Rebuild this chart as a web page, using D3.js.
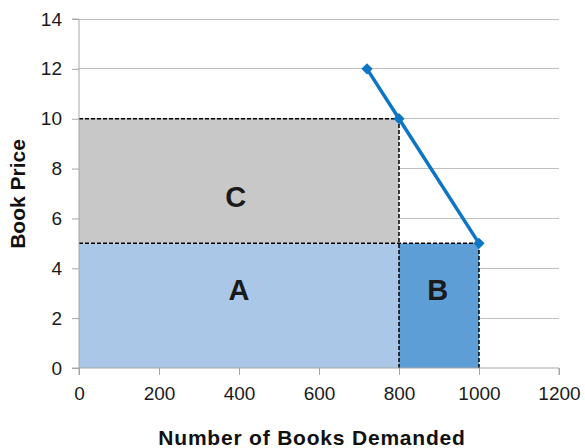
<!DOCTYPE html>
<html><head><meta charset="utf-8">
<script src="https://cdn.jsdelivr.net/npm/d3@7"></script>
<style>body{margin:0;background:#fff}svg{display:block;font-family:"Liberation Sans",Arial,sans-serif}</style>
</head><body><svg id="c" width="585" height="448"></svg>
<script>
const demandQty = [720, 800, 1000];
const demandPrice = [12, 10, 5];
const areaNames = ["A", "B", "C"];
const areaX0 = [0, 800, 0];
const areaX1 = [800, 1000, 800];
const areaY0 = [0, 0, 5];
const areaY1 = [5, 5, 10];
const areaColors = ["#abc7e7", "#5e9ed6", "#c8c8c9"];
const xTicks = [0, 200, 400, 600, 800, 1000, 1200];
const yTicks = [0, 2, 4, 6, 8, 10, 12, 14];

const FONT = '"Liberation Sans",Arial,sans-serif';
const svg = d3.select("#c");
const x = d3.scaleLinear().domain([0, 1200]).range([79, 559]);
const y = d3.scaleLinear().domain([0, 14]).range([368, 19]);

// gridlines
svg.append("g").selectAll("line").data(yTicks.filter(d => d > 0)).join("line")
  .attr("x1", x(0)).attr("x2", x(1200)).attr("y1", d => y(d)).attr("y2", d => y(d))
  .attr("stroke", "#bfbfbf").attr("stroke-width", 1).attr("shape-rendering", "crispEdges");

// areas
svg.append("g").selectAll("rect").data(areaNames).join("rect")
  .attr("x", (d, i) => x(areaX0[i])).attr("width", (d, i) => x(areaX1[i]) - x(areaX0[i]))
  .attr("y", (d, i) => y(areaY1[i])).attr("height", (d, i) => y(areaY0[i]) - y(areaY1[i]))
  .attr("fill", (d, i) => areaColors[i]);

// dashed borders
const dashSegs = [
  [[0, 10], [800, 10]],
  [[800, 0], [800, 10]],
  [[0, 5], [1000, 5]],
  [[1000, 0], [1000, 5]]
];
svg.append("g").selectAll("line").data(dashSegs).join("line")
  .attr("x1", d => x(d[0][0])).attr("y1", d => y(d[0][1]))
  .attr("x2", d => x(d[1][0])).attr("y2", d => y(d[1][1]))
  .attr("stroke", "#000").attr("stroke-width", 1.5).attr("stroke-dasharray", "4,2");

// axes
const xAxis = svg.append("g").attr("transform", `translate(0,${y(0)})`)
  .call(d3.axisBottom(x).tickValues(xTicks).tickSize(7).tickPadding(12).tickFormat(d3.format("d")));
const yAxis = svg.append("g").attr("transform", `translate(${x(0)},0)`)
  .call(d3.axisLeft(y).tickValues(yTicks).tickSize(7).tickPadding(10).tickFormat(d3.format("d")));
[xAxis, yAxis].forEach(a => {
  a.attr("font-size", null).attr("font-family", null);
  a.select(".domain").attr("stroke", "#a6a6a6");
  a.selectAll(".tick line").attr("stroke", "#a6a6a6");
  a.selectAll(".tick text").style("font-size", "19px").style("font-family", FONT).attr("fill", "#1a1a1a");
});
xAxis.select(".domain").attr("d", `M${x(0)},7V0H${x(1200)}V7`);
yAxis.select(".domain").attr("d", `M-7,${y(14)}H0V${y(0)}H-7`);

// area labels
const labelX = [400, 897, 392];
const labelY = [3.13, 3.13, 6.86];
svg.append("g").selectAll("text").data(areaNames).join("text")
  .attr("x", (d, i) => x(labelX[i]))
  .attr("y", (d, i) => y(labelY[i]))
  .attr("dy", "0.36em").attr("text-anchor", "middle")
  .style("font-size", "29px").attr("font-weight", "bold").attr("fill", "#1a1a1a").text(d => d);

// demand line
const pts = demandQty.map((q, i) => [q, demandPrice[i]]);
svg.append("path").datum(pts)
  .attr("d", d3.line().x(d => x(d[0])).y(d => y(d[1])))
  .attr("fill", "none").attr("stroke", "#0d76c4").attr("stroke-width", 3.5);
svg.append("g").selectAll("path").data(pts).join("path")
  .attr("transform", d => `translate(${x(d[0])},${y(d[1])})`)
  .attr("d", d3.symbol(d3.symbolDiamond2, 80)).attr("fill", "#0d76c4");

// axis titles
svg.append("text").attr("x", 312).attr("y", 445).attr("text-anchor", "middle")
  .style("font-size", "21px").style("letter-spacing", "0.8px").attr("font-weight", "bold").attr("fill", "#111").text("Number of Books Demanded");
svg.append("text").attr("transform", `translate(25,194) rotate(-90)`).attr("text-anchor", "middle")
  .style("font-size", "21px").attr("font-weight", "bold").attr("fill", "#111").text("Book Price");
</script></body></html>
